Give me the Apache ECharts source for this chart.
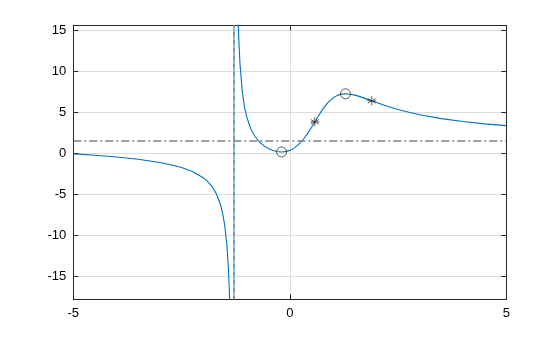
<!DOCTYPE html>
<html>
<head>
<meta charset="utf-8">
<script src="https://cdn.jsdelivr.net/npm/echarts@6/dist/echarts.min.js"></script>
<style>html,body{margin:0;padding:0;background:#fff}#c{width:560px;height:337px}</style>
</head>
<body>
<div id="c"></div>
<script>
// Left branch of curve (before the pole)
var leftX = [-5, -4.5, -4, -3.5, -3, -2.75, -2.5, -2.25, -2, -1.9, -1.8, -1.7, -1.6, -1.55, -1.5, -1.45, -1.42, -1.4, -1.38, -1.35, -1.32, -1.30];
var leftY = [-0.0868, -0.2568, -0.4711, -0.7524, -1.1458, -1.4137, -1.7621, -2.2469, -3.0, -3.4467, -4.0478, -4.9144, -6.3007, -7.375, -8.9444, -11.4716, -13.906, -16.257, -19.643, -28.91, -56.44, -163.2];
// Right branch of curve (after the pole)
var rightX = [-1.28, -1.26, -1.24, -1.22, -1.2, -1.18, -1.15, -1.1, -1.05, -1.0, -0.9, -0.8, -0.7, -0.6, -0.5, -0.4, -0.3, -0.2, -0.1, 0, 0.1, 0.2, 0.3, 0.4, 0.5, 0.6, 0.7, 0.8, 0.9, 1.0, 1.1, 1.2, 1.3, 1.4, 1.5, 1.6, 1.8, 2.0, 2.25, 2.5, 2.75, 3.0, 3.5, 4.0, 4.5, 5.0];
var rightY = [173.6, 55.65, 32.757, 23.007, 17.602, 14.164, 10.846, 7.6335, 5.747, 4.5, 2.9414, 1.9971, 1.3607, 0.9066, 0.5769, 0.3447, 0.1999, 0.1432, 0.183, 0.3333, 0.611, 1.0313, 1.6017, 2.3138, 3.1364, 4.0141, 4.8758, 5.6501, 6.2836, 6.75, 7.0502, 7.204, 7.2401, 7.1885, 7.0758, 6.9233, 6.5591, 6.1765, 5.7257, 5.3268, 4.9817, 4.6852, 4.2097, 3.8504, 3.5719, 3.3508];
// Critical points (circles) and inflection points (stars)
var critX = [-0.1892, 1.286];
var critY = [0.1427, 7.241];
var inflX = [0.578, 1.892];
var inflY = [3.82, 6.382];
// Asymptotes
var horizAsym = 1.5;
var vertAsym = -1.2896;
// Axis ticks
var xTicks = [-5, 0, 5];
var yTicks = [-15, -10, -5, 0, 5, 10, 15];
var yMin = -17.84, yMax = 15.6;

function pairs(xs, ys) { return xs.map(function (x, i) { return [x, ys[i]]; }); }

var blue = '#0072BD';
var lightBlue = '#86BCE2';
var gray = '#808080';
var axisColor = '#262626';
var font = 'Liberation Sans, Arial, Helvetica, sans-serif';

var chart = echarts.init(document.getElementById('c'), null, {renderer: 'canvas'});
var starPath = 'path://M0,-10L0,10M-8.7,-5L8.7,5M-8.7,5L8.7,-5M-10,0L10,0';

chart.setOption({
  animation: false,
  grid: {left: 73.3, right: 53.7, top: 25.3, bottom: 37.7, containLabel: false},
  xAxis: [{
    type: 'value', min: -5, max: 5, interval: 5,
    axisLine: {show: true, onZero: false, lineStyle: {color: axisColor, width: 1}},
    axisTick: {show: true, inside: true, length: 5, lineStyle: {color: axisColor}},
    axisLabel: {color: '#000', fontFamily: font, fontSize: 13, margin: 8},
    splitLine: {show: true, lineStyle: {color: '#dcdcdc', width: 1}}
  }, {
    type: 'value', position: 'top', min: -5, max: 5, interval: 5,
    axisLine: {show: true, onZero: false, lineStyle: {color: axisColor, width: 1}},
    axisTick: {show: true, inside: true, length: 5, lineStyle: {color: axisColor}},
    axisLabel: {show: false}, splitLine: {show: false}
  }],
  yAxis: [{
    type: 'value', min: yMin, max: yMax,
    axisLine: {show: true, onZero: false, lineStyle: {color: axisColor, width: 1}},
    axisTick: {show: true, inside: true, length: 5, customValues: yTicks, lineStyle: {color: axisColor}},
    axisLabel: {color: '#000', fontFamily: font, fontSize: 13, margin: 7, customValues: yTicks},
    splitLine: {show: true, lineStyle: {color: '#dcdcdc', width: 1}}
  }, {
    type: 'value', position: 'right', min: yMin, max: yMax,
    axisLine: {show: true, onZero: false, lineStyle: {color: axisColor, width: 1}},
    axisTick: {show: true, inside: true, length: 5, customValues: yTicks, lineStyle: {color: axisColor}},
    axisLabel: {show: false}, splitLine: {show: false}
  }],
  series: [
    {
      type: 'line', data: pairs(leftX, leftY), showSymbol: false, symbol: 'none',
      lineStyle: {color: blue, width: 1.1}, clip: true, z: 3,
      markLine: {
        silent: true, symbol: 'none', label: {show: false},
        data: [
          {xAxis: vertAsym, lineStyle: {color: lightBlue, width: 2, type: 'solid'}},
          {xAxis: vertAsym, lineStyle: {color: gray, width: 1.5, type: [3, 5]}},
          {yAxis: horizAsym, lineStyle: {color: gray, width: 1.5, type: [8, 3, 2, 3]}}
        ]
      }
    },
    {
      type: 'line', data: pairs(rightX, rightY), showSymbol: false, symbol: 'none',
      lineStyle: {color: blue, width: 1.1}, clip: true, z: 3
    },
    {
      type: 'scatter', data: pairs(critX, critY), symbol: 'circle', symbolSize: 10,
      itemStyle: {color: 'rgba(0,0,0,0)', borderColor: '#333', borderWidth: 1}, z: 5
    },
    {
      type: 'scatter', data: pairs(inflX, inflY), symbol: starPath, symbolSize: 9,
      itemStyle: {color: 'rgba(0,0,0,0)', borderColor: '#333', borderWidth: 1}, z: 5
    }
  ]
});
</script>
</body>
</html>
